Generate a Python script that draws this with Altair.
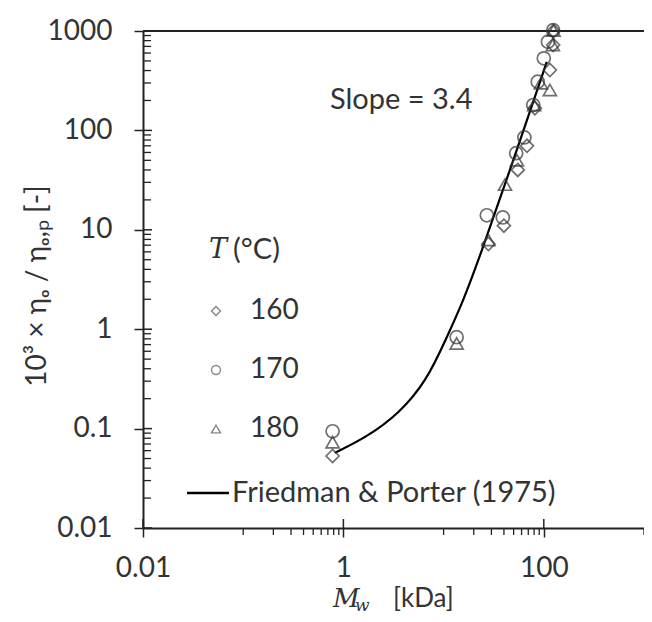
import altair as alt
import pandas as pd

# ---- data ----
mw_160 = [0.78, 28, 40, 55, 68, 81.5, 115, 124, 125]
eta_160 = [0.053, 7.2, 11.0, 40, 70, 167, 405, 723, 1000]
mw_170 = [0.78, 13.5, 27, 39, 53, 64, 78.5, 87, 100, 110, 124]
eta_170 = [0.094, 0.83, 14.0, 13.3, 59, 85, 180, 309, 531, 780, 1020]
mw_180 = [0.78, 13.5, 28, 41, 54, 80, 93.5, 115, 123, 125]
eta_180 = [0.073, 0.72, 7.9, 28.5, 50, 180, 298, 255, 723, 1010]

fp_mw = [0.82, 1.72, 3.64, 6.72, 10.6, 15.6, 22.4, 60.7, 107]
fp_eta = [0.057, 0.0822, 0.1436, 0.30, 0.80, 1.90, 4.97, 90, 488]

temps = ["160", "170", "180"]
shapes = ["diamond", "circle", "triangle-up"]

x_major = [0.01, 1, 100]
x_minor = [0.1, 0.2, 0.3, 0.4, 0.5, 0.6, 0.7, 0.8, 0.9,
           10, 20, 30, 40, 50, 60, 70, 80, 90, 1000]
y_major = [0.01, 0.1, 1, 10, 100, 1000]
y_minor = [0.02, 0.03, 0.04, 0.05, 0.06, 0.07, 0.08, 0.09,
           0.2, 0.3, 0.4, 0.5, 0.6, 0.7, 0.8, 0.9,
           2, 3, 4, 5, 6, 7, 8, 9,
           20, 30, 40, 50, 60, 70, 80, 90,
           200, 300, 400, 500, 600, 700, 800, 900]

W, H = 501, 497
AX = "#222222"
TXT = "#333333"
FONT = "Lato"

rows = []
for t, xs, ys in [("160", mw_160, eta_160), ("170", mw_170, eta_170), ("180", mw_180, eta_180)]:
    for a, b in zip(xs, ys):
        rows.append({"mw": a, "eta": b, "T": t})
pts_df = pd.DataFrame(rows)
fp_df = pd.DataFrame({"mw": fp_mw, "eta": fp_eta})

xscale = alt.Scale(type="log", domain=[0.01, 1000], nice=False)
yscale = alt.Scale(type="log", domain=[0.01, 1000], nice=False)

x_main = alt.Axis(orient="bottom", values=x_major, format="~g", tickSize=9, tickWidth=1.5,
                  tickColor=AX, domainColor=AX, domainWidth=2, labelFont=FONT, labelFontSize=28,
                  labelColor=TXT, labelPadding=17, labelFlush=False, labelOverlap=False,
                  grid=False, title=None)
y_main = alt.Axis(orient="left", values=y_major, format="~g", tickSize=9, tickWidth=1.5,
                  tickColor=AX, domainColor=AX, domainWidth=2, labelFont=FONT, labelFontSize=28,
                  labelColor=TXT, labelPadding=22, labelFlush=False, labelOverlap=False,
                  grid=False, title="10³ × ηₒ / ηₒ,ₚ [-]", titleFont=FONT, titleFontSize=28,
                  titleFontWeight="normal", titleColor=TXT, titleAngle=270,
                  titleX=-106, titleY=H / 2 + 6, titleAlign="center", titleBaseline="middle")


def xq(field):
    return alt.X(field, type="quantitative", scale=xscale, axis=x_main)


def yq(field):
    return alt.Y(field, type="quantitative", scale=yscale, axis=y_main)


points = alt.Chart(pts_df).mark_point(filled=False, size=170, strokeWidth=1.7,
                                      color="#333333").encode(
    x=xq("mw"),
    y=yq("eta"),
    shape=alt.Shape("T:N", scale=alt.Scale(domain=temps, range=shapes),
                    legend=alt.Legend(orient="none", legendX=59, legendY=266, title=None,
                                      symbolSize=80, symbolStrokeWidth=1.4,
                                      symbolStrokeColor="#555555", symbolFillColor="transparent",
                                      labelFont=FONT, labelFontSize=28, labelColor=TXT,
                                      labelOffset=20, rowPadding=31, padding=0)),
)

curve = alt.Chart(fp_df).mark_line(color="black", strokeWidth=2.2,
                                   interpolate="basis").encode(x=xq("mw"), y=yq("eta"))

# tick marks that Vega axes cannot draw (inward halves, minor ticks)
xmaj_df = pd.DataFrame({"v": x_major})
xmin_df = pd.DataFrame({"v": x_minor})
ymaj_df = pd.DataFrame({"v": y_major})
ymin_df = pd.DataFrame({"v": y_minor})

x_major_in = alt.Chart(xmaj_df).mark_rule(color=AX, strokeWidth=1.5).encode(
    x=xq("v"), y=alt.value(H - 9), y2=alt.value(H))
x_minor_out = alt.Chart(xmin_df).mark_rule(color=AX, strokeWidth=1.3).encode(
    x=xq("v"), y=alt.value(H), y2=alt.value(H + 7))
y_major_in = alt.Chart(ymaj_df).mark_rule(color=AX, strokeWidth=1.5).encode(
    y=yq("v"), x=alt.value(0), x2=alt.value(9))
y_minor_in = alt.Chart(ymin_df).mark_rule(color=AX, strokeWidth=1.3).encode(
    y=yq("v"), x=alt.value(0), x2=alt.value(8))

top_line = alt.Chart(pd.DataFrame({"v": [1000]})).mark_rule(color=AX, strokeWidth=2).encode(
    y=yq("v"), x=alt.value(0), x2=alt.value(W))

one = pd.DataFrame({"a": [0]})

slope_txt = alt.Chart(one).mark_text(text="Slope = 3.4", font=FONT, fontSize=29,
                                     color=TXT, align="left", baseline="middle").encode(
    x=alt.value(187), y=alt.value(69))

leg_T = alt.Chart(one).mark_text(text="T", font="DejaVu Serif", fontStyle="italic",
                                 fontSize=27, color=TXT, align="left",
                                 baseline="middle").encode(x=alt.value(66), y=alt.value(219))
leg_C = alt.Chart(one).mark_text(text="(°C)", font=FONT, fontSize=29, color=TXT,
                                 align="left", baseline="middle").encode(
    x=alt.value(90), y=alt.value(219))

fp_rule = alt.Chart(one).mark_rule(color="black", strokeWidth=2.5).encode(
    x=alt.value(44), x2=alt.value(86), y=alt.value(462))
fp_txt = alt.Chart(one).mark_text(text="Friedman & Porter (1975)", font=FONT, fontSize=29,
                                  color=TXT, align="left", baseline="middle").encode(
    x=alt.value(89), y=alt.value(462))

xt_M = alt.Chart(one).mark_text(text="M", font="DejaVu Serif", fontStyle="italic",
                                fontSize=26, color=TXT, align="left",
                                baseline="middle").encode(x=alt.value(190), y=alt.value(568))
xt_w = alt.Chart(one).mark_text(text="w", font="DejaVu Serif", fontStyle="italic",
                                fontSize=17, color=TXT, align="left",
                                baseline="middle").encode(x=alt.value(212), y=alt.value(575))
xt_k = alt.Chart(one).mark_text(text="[kDa]", font=FONT, fontSize=26, color=TXT,
                                align="left", baseline="middle").encode(
    x=alt.value(250), y=alt.value(568))

chart = alt.layer(
    curve, x_major_in, x_minor_out, y_major_in, y_minor_in, top_line, points,
    slope_txt, leg_T, leg_C, fp_rule, fp_txt, xt_M, xt_w, xt_k
).properties(
    width=W, height=H,
    autosize=alt.AutoSizeParams(type="none"),
    padding={"left": 135, "top": 23, "right": 0, "bottom": 86},
    background="white",
).configure_view(stroke=None).configure_axis(grid=False)

chart.save("out.html", embed_options={"renderer": "svg", "actions": False})
